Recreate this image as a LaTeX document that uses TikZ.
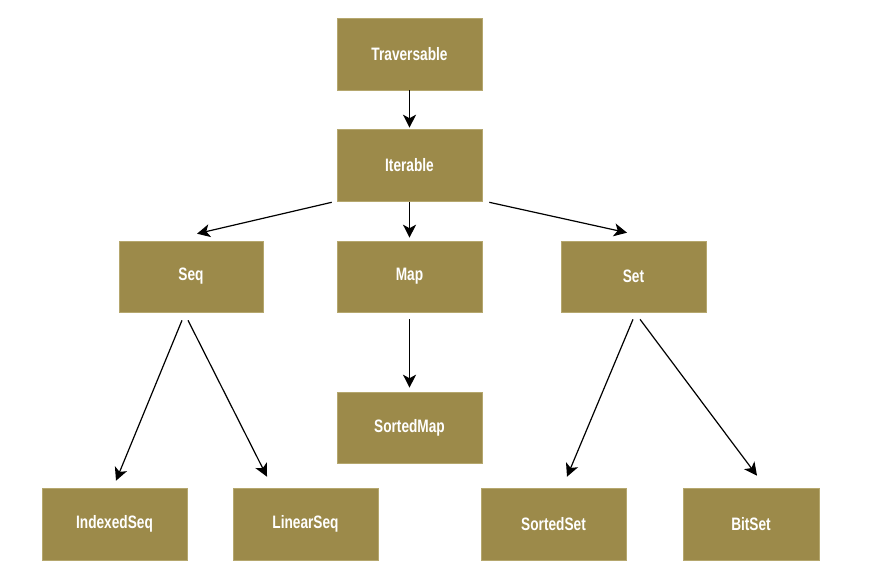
\documentclass[tikz,border=0pt]{standalone}
\usepackage{fontspec}
\newfontfamily\boxfont[FakeStretch=0.76]{Liberation Sans Bold}
\usetikzlibrary{arrows.meta}
\definecolor{boxfill}{HTML}{9C8A4A}
\definecolor{boxedge}{HTML}{B5A76E}
\begin{document}
\begin{tikzpicture}[x=1pt,y=-1pt,
  cls/.style={draw=boxedge,line width=0.6pt,fill=boxfill,minimum width=145pt,minimum height=72pt,
    inner sep=0pt,text=white,font=\boxfont\fontsize{18}{20}\selectfont},
  arr/.style={line width=1.2pt,-{Stealth[length=13pt,width=13pt,inset=3.5pt]}}]
\useasboundingbox (0,0) rectangle (874,584);
\node[cls] (trav) at (409.5,54) {Traversable};
\node[cls] (iter) at (409.5,165) {Iterable};
\node[cls,minimum width=144pt,minimum height=71pt] (seq) at (191,276.5) {Seq};
\node[cls,minimum height=71pt] (map) at (409.5,276.5) {Map};
\node[cls,minimum height=71pt] (set) at (633.5,276.5) {Set};
\node[cls,minimum height=71pt] (smap) at (409.5,427.5) {SortedMap};
\node[cls] (iseq) at (114.5,524) {IndexedSeq};
\node[cls] (lseq) at (305.5,524) {LinearSeq};
\node[cls] (sset) at (553.5,524) {SortedSet};
\node[cls,minimum width=136pt] (bset) at (751,524) {BitSet};
\draw[arr] (trav.south) -- ([shift={(0,-1)}]iter.north);
\draw[arr] ([shift={(-5,1)}]iter.south west) -- ([shift={(6,-7)}]seq.north);
\draw[arr] ([shift={(0,1)}]iter.south) -- ([shift={(0,-3)}]map.north);
\draw[arr] ([shift={(7,1)}]iter.south east) -- ([shift={(-6.5,-8)}]set.north);
\draw[arr] ([shift={(0,7)}]map.south) -- ([shift={(0,-4)}]smap.north);
\draw[arr] ([shift={(-9,8)}]seq.south) -- ([shift={(1.5,-7)}]iseq.north);
\draw[arr] ([shift={(-3,8)}]seq.south) -- ([shift={(-38.5,-11)}]lseq.north);
\draw[arr] ([shift={(-0.5,7)}]set.south) -- ([shift={(13.5,-11)}]sset.north);
\draw[arr] ([shift={(6.5,7)}]set.south) -- ([shift={(6,-12)}]bset.north);
\end{tikzpicture}
\end{document}
